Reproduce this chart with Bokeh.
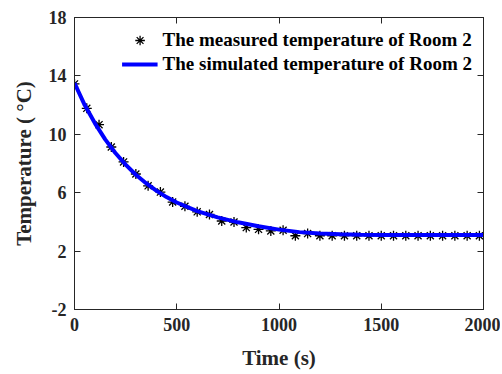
from bokeh.plotting import figure
from bokeh.models import LinearAxis, Range1d, FixedTicker, Legend, LegendItem
from bokeh.embed import file_html
from bokeh.resources import INLINE

# measured data (every 60 s)
meas_t = [0, 60, 120, 180, 240, 300, 360, 420, 480, 540, 600, 660, 720, 780, 840,
          900, 960, 1020, 1080, 1140, 1200, 1260, 1320, 1380, 1440, 1500, 1560,
          1620, 1680, 1740, 1800, 1860, 1920, 1980]
meas_T = [13.45, 11.78, 10.66, 9.13, 8.11, 7.28, 6.47, 6.04, 5.36, 5.07, 4.69, 4.51,
          4.06, 3.99, 3.61, 3.49, 3.38, 3.43, 3.05, 3.2, 3.05, 3.05, 3.05, 3.05,
          3.05, 3.05, 3.05, 3.05, 3.05, 3.05, 3.05, 3.05, 3.05, 3.05]

# simulated curve
sim_t = [0, 50, 100, 150, 200, 250, 300, 350, 400, 450, 500, 600, 700, 800, 900,
         1000, 1100, 1200, 1300, 1400, 1500, 1600, 1700, 1800, 1900, 2000]
sim_T = [13.5, 12.0, 10.75, 9.65, 8.72, 7.92, 7.23, 6.65, 6.14, 5.70, 5.33, 4.74,
         4.31, 3.97, 3.70, 3.47, 3.30, 3.2, 3.15, 3.12, 3.1, 3.1, 3.1, 3.1, 3.1, 3.1]

x_ticks = [0, 500, 1000, 1500, 2000]
y_ticks = [-2, 2, 6, 10, 14, 18]

FONT = "Liberation Serif"

p = figure(width=500, height=372, output_backend="svg", toolbar_location=None,
           x_range=Range1d(0, 2000), y_range=Range1d(-2, 18),
           min_border_left=74, min_border_right=17, min_border_top=17,
           min_border_bottom=59)
p.grid.visible = False
p.outline_line_color = "#262626"
p.outline_line_width = 1
p.background_fill_color = "white"

r_meas = p.scatter(meas_t, meas_T, marker="asterisk", size=10,
                   line_color="black", line_width=1.3)
r_sim = p.line(sim_t, sim_T, line_color="#0000ff", line_width=4)

def style_axis(ax, ticks, labels=True):
    ax.ticker = FixedTicker(ticks=ticks)
    ax.major_tick_in = 6
    ax.major_tick_out = 0
    ax.minor_tick_line_color = None
    ax.axis_line_color = "#262626"
    ax.major_tick_line_color = "#262626"
    ax.major_label_text_font = FONT
    ax.major_label_text_font_style = "bold"
    ax.major_label_text_font_size = "18px"
    ax.major_label_text_color = "#262626"
    ax.major_label_standoff = 8
    if labels:
        ax.major_label_overrides = {t: str(t) for t in ticks}
    else:
        ax.major_label_overrides = {t: "" for t in ticks}

style_axis(p.xaxis[0], x_ticks)
style_axis(p.yaxis[0], y_ticks)
p.xaxis[0].axis_label = "Time (s)"
p.yaxis[0].axis_label = "Temperature ( \u00b0C)"
for ax in (p.xaxis[0], p.yaxis[0]):
    ax.axis_label_text_font = FONT
    ax.axis_label_text_font_style = "bold"
    ax.axis_label_text_font_size = "21px"
    ax.axis_label_text_color = "#262626"
p.xaxis[0].axis_label_standoff = 12
p.yaxis[0].axis_label_standoff = 10

top = LinearAxis()
style_axis(top, x_ticks, labels=False)
p.add_layout(top, "above")
right = LinearAxis()
style_axis(right, y_ticks, labels=False)
p.add_layout(right, "right")

legend = Legend(items=[
    LegendItem(label="The measured temperature of Room 2", renderers=[r_meas]),
    LegendItem(label="The simulated temperature of Room 2", renderers=[r_sim]),
], location="top_right")
legend.label_text_font = FONT
legend.label_text_font_style = "bold"
legend.label_text_font_size = "19px"
legend.label_text_color = "black"
legend.glyph_width = 36
legend.glyph_height = 24
legend.label_height = 24
legend.label_standoff = 5
legend.spacing = 0
legend.padding = 5
legend.margin = 11
legend.border_line_color = None
legend.background_fill_alpha = 0
p.add_layout(legend)

open("out.html", "w").write(file_html(p, INLINE))
